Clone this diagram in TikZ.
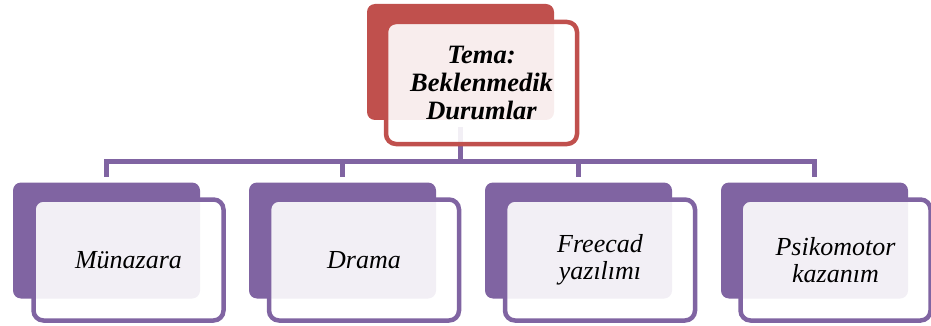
\documentclass[tikz,border=0pt]{standalone}
\usepackage{fontspec}
\setmainfont{Liberation Serif}
\definecolor{plum}{HTML}{8064A2}
\definecolor{brick}{HTML}{C0504D}
\begin{document}
\begin{tikzpicture}[x=1pt,y=-1pt,
  backbox/.style={rectangle, rounded corners=8pt, draw=none, fill=#1,
    minimum width=187pt, minimum height=116pt, inner sep=0pt, outer sep=0pt},
  frontbox/.style={rectangle, rounded corners=10pt, draw=#1, line width=4.5pt,
    fill=white, fill opacity=0.9, text opacity=1,
    minimum width=190pt, minimum height=121pt, inner sep=0pt, outer sep=0pt,
    align=center, font=\itshape\fontsize{26}{26.5}\selectfont},
  conn/.style={draw=plum, line width=5pt}]
  \useasboundingbox (0,0) rectangle (931,326);

  % back plates
  \node[backbox=brick] (topb) at (460.5,62) {};
  \node[backbox=plum] (b1) at (106.5,240.5) {};
  \node[backbox=plum] (b2) at (342.5,240.5) {};
  \node[backbox=plum] (b3) at (578.5,240.5) {};
  \node[backbox=plum] (b4) at (814.5,240.5) {};

  % connectors
  \draw[conn] ([yshift=-7pt]topb.south) -- ++(0,35);
  \draw[conn] ([yshift=6pt]b1.north) -- ++(0,-15) -| ([yshift=6pt]b4.north);
  \draw[conn] ([yshift=6pt]b2.north) -- ++(0,-15);
  \draw[conn] ([yshift=6pt]b3.north) -- ++(0,-15);

  % front cards with labels
  \node[frontbox=brick, minimum width=191pt, minimum height=122pt,
        font=\bfseries\itshape\fontsize{26.5}{28}\selectfont]
        (topf) at (481.5,83) {Tema:\\Beklenmedik\\Durumlar};
  \node[frontbox=plum] (f1) at (128.5,260) {Münazara};
  \node[frontbox=plum] (f2) at (364,260) {Drama};
  \node[frontbox=plum] (f3) at (600,260) {Freecad\\yazılımı};
  \node[frontbox=plum] (f4) at (835.5,260) {Psikomotor\\kazanım};
\end{tikzpicture}
\end{document}
